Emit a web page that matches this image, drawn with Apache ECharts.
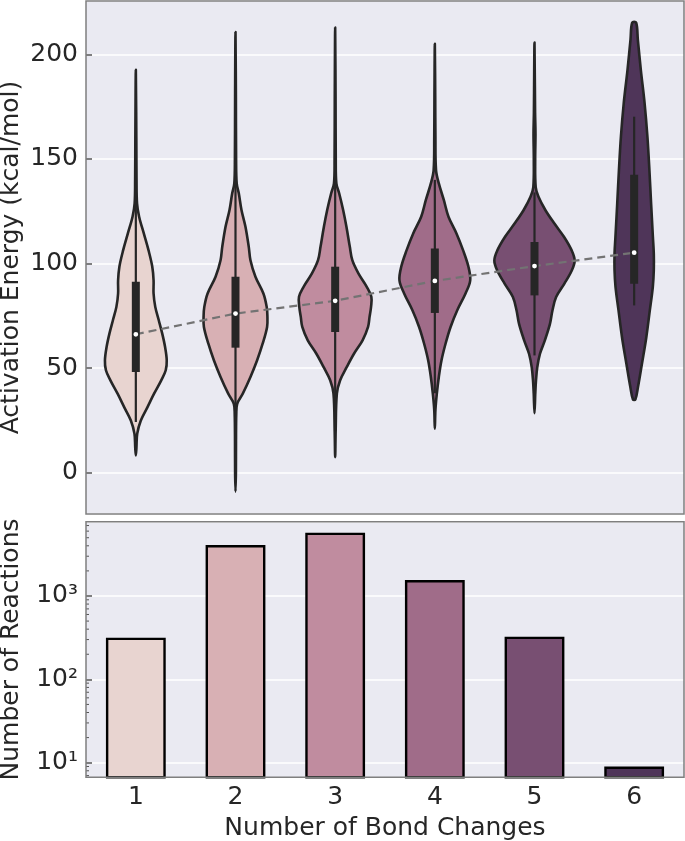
<!DOCTYPE html>
<html><head><meta charset="utf-8">
<script src="https://cdn.jsdelivr.net/npm/echarts@6/dist/echarts.min.js"></script>
<style>html,body{margin:0;padding:0;background:#fff}#c{width:685px;height:841px}</style>
</head><body><div id="c"></div>
<script>
// ---------- data ----------
const categories = ['1', '2', '3', '4', '5', '6'];
const palette = ['#E8D4D0', '#D8B0B4', '#C08C9F', '#A06C89', '#784F72', '#4F3559'];

// Activation energy box statistics (kcal/mol)
const medians     = [66.2, 76.1, 82.2, 91.7, 98.8, 105.2];
const q1          = [48.2, 59.8, 67.3, 76.4, 84.8, 90.4];
const q3          = [91.3, 93.7, 98.5, 107.2, 110.3, 142.5];
const whiskerLow  = [24.3, 10.0, 20.0, 38.0, 56.1, 80.0];
const whiskerHigh = [150.0, 138.0, 140.0, 140.0, 134.0, 170.2];

// Violin density profiles: [energy, half width as fraction of category band]
const violinProfile1 = [[8.3,0],[12,0.006],[18.7,0.014],[25,0.05],[31.4,0.117],[37.8,0.183],[44.2,0.255],[49,0.30],[53.8,0.31],[60.2,0.293],[66.5,0.265],[72.9,0.23],[79.3,0.195],[85.7,0.178],[92,0.178],[98.5,0.165],[106.4,0.127],[114.4,0.08],[122.4,0.033],[128.8,0.012],[140,0.007],[160,0.005],[192.6,0]];
const violinProfile2 = [[-9,0],[0,0.004],[15,0.005],[28,0.008],[33,0.017],[37.8,0.073],[45.8,0.15],[53.8,0.217],[61.8,0.273],[69.7,0.317],[75,0.32],[79.3,0.313],[85.7,0.28],[93.7,0.20],[101.6,0.15],[108,0.133],[117.6,0.10],[125.6,0.06],[133.6,0.033],[138.3,0.012],[150,0.006],[180,0.004],[210.7,0]];
const violinProfile3 = [[7.5,0],[20,0.005],[37.8,0.017],[44.2,0.05],[50.6,0.117],[57,0.19],[63.3,0.275],[69.7,0.33],[74.5,0.345],[79.3,0.36],[84.1,0.363],[88.9,0.317],[95.3,0.233],[101.6,0.172],[108,0.147],[117.6,0.113],[125.6,0.08],[133.6,0.04],[138.3,0.012],[150,0.006],[180,0.004],[212.8,0]];
const violinProfile4 = [[21.1,0],[30,0.006],[37.8,0.02],[45.8,0.04],[53.8,0.067],[61.8,0.108],[69.7,0.158],[77.7,0.225],[85.7,0.308],[92,0.355],[98.5,0.337],[106.4,0.283],[114.4,0.217],[122.4,0.137],[130.4,0.09],[138.3,0.04],[144.7,0.012],[160,0.006],[180,0.004],[205.1,0]];
const violinProfile5 = [[28.5,0],[38,0.008],[44.1,0.015],[50.5,0.028],[56.9,0.055],[63.2,0.103],[71.2,0.155],[77.6,0.18],[84,0.217],[90.4,0.30],[96.8,0.375],[101.5,0.403],[106.3,0.373],[112.7,0.297],[119.1,0.20],[125.5,0.11],[131.9,0.04],[136.6,0.012],[150,0.007],[162,0.01],[172,0.006],[205.6,0]];
const violinProfile6 = [[35,0.012],[40.9,0.038],[52.1,0.078],[64.8,0.122],[77.6,0.157],[88.8,0.187],[96.8,0.197],[104.7,0.197],[112.7,0.188],[128.7,0.17],[144.6,0.153],[160.6,0.133],[176.5,0.105],[192.5,0.067],[206.9,0.037],[215.1,0.02]];
const violinProfiles = [violinProfile1, violinProfile2, violinProfile3, violinProfile4, violinProfile5, violinProfile6];

// Number of reactions per bond-change count
const reactionCounts = [316, 4090, 5750, 1555, 325, 9];

// Axis ticks
const energyTicks = [0, 50, 100, 150, 200];
const countTicks = [10, 100, 1000];
const countTickLabels = ['10\u00B9', '10\u00B2', '10\u00B3'];
const minorCountTicks = [7, 8, 9, 20, 30, 40, 50, 60, 70, 80, 90, 200, 300, 400, 500, 600, 700, 800, 900, 2000, 3000, 4000, 5000, 6000, 7000];

// ---------- chart ----------
const FONT = 'DejaVu Sans';
const TXT = '#262626';
const FS = 25;
const chart = echarts.init(document.getElementById('c'), null, {renderer: 'canvas'});

const G0 = {left: 86, top: 1, width: 598, height: 513};
const G1 = {left: 86, top: 521.7, width: 598, height: 255.6};

function renderViolin(params, api) {
  const i = params.dataIndex;
  const prof = violinProfiles[i];
  const band = api.size([1, 0])[0];
  const left = [], right = [];
  prof.forEach(function (d) {
    const p = api.coord([i, d[0]]);
    left.push([p[0] - d[1] * band, p[1]]);
    if (d[1] > 0) right.push([p[0] + d[1] * band, p[1]]);
    else right.push(null);
  });
  const pts = [];
  left.forEach(function (p) { pts.push(p); });
  for (let k = right.length - 1; k >= 0; k--) if (right[k]) pts.push(right[k]);
  return {
    type: 'polygon',
    shape: {points: pts, smooth: 0.35},
    style: {fill: palette[i], stroke: '#262626', lineWidth: 2.6, lineJoin: 'round'}
  };
}

function renderBox(params, api) {
  const i = params.dataIndex;
  const lo = api.coord([i, whiskerLow[i]]), hi = api.coord([i, whiskerHigh[i]]);
  const b1 = api.coord([i, q1[i]]), b3 = api.coord([i, q3[i]]);
  const m = api.coord([i, medians[i]]);
  return {
    type: 'group',
    children: [
      {type: 'line', shape: {x1: lo[0], y1: lo[1], x2: hi[0], y2: hi[1]}, style: {stroke: '#262626', lineWidth: 2.2}},
      {type: 'line', shape: {x1: b1[0], y1: b1[1], x2: b3[0], y2: b3[1]}, style: {stroke: '#262626', lineWidth: 8}},
      {type: 'circle', shape: {cx: m[0], cy: m[1], r: 2.4}, style: {fill: '#ffffff'}}
    ]
  };
}

function renderMinorTick(params, api) {
  const v = minorCountTicks[params.dataIndex];
  const p = api.coord([0, v]);
  const x0 = params.coordSys.x;
  return {type: 'line', shape: {x1: x0, y1: p[1], x2: x0 + 3, y2: p[1]}, style: {stroke: '#555', lineWidth: 1}};
}

function isPow10(v) {
  const l = Math.log10(v);
  return Math.abs(l - Math.round(l)) < 1e-6;
}

const gridBase = {show: true, backgroundColor: '#EAEAF2', borderWidth: 0, containLabel: false, outerBoundsMode: 'none'};

const option = {
  backgroundColor: '#ffffff',
  animation: false,
  textStyle: {fontFamily: FONT},
  grid: [
    Object.assign({}, gridBase, G0),
    Object.assign({}, gridBase, G1)
  ],
  xAxis: [
    {type: 'category', gridIndex: 0, data: categories, boundaryGap: true,
     axisLine: {show: false}, axisTick: {show: false}, axisLabel: {show: false}, splitLine: {show: false}},
    {type: 'category', gridIndex: 1, data: categories, boundaryGap: true,
     axisLine: {show: false}, axisTick: {show: false},
     axisLabel: {color: TXT, fontSize: FS, fontFamily: FONT, margin: 8},
     splitLine: {show: false},
     name: 'Number of Bond Changes', nameLocation: 'middle', nameGap: 39,
     nameTextStyle: {color: TXT, fontSize: FS, fontFamily: FONT}}
  ],
  yAxis: [
    {type: 'value', gridIndex: 0, min: -19.7, max: 225.5, splitNumber: 5,
     axisLine: {show: false},
     axisTick: {show: true, inside: true, length: 6, lineStyle: {color: '#555', width: 1.5}},
     axisLabel: {color: TXT, fontSize: FS, fontFamily: FONT, margin: 8, showMinLabel: false, showMaxLabel: false,
       formatter: function (v) { return energyTicks.indexOf(v) >= 0 ? String(v) : ''; }},
     splitLine: {show: true, lineStyle: {color: '#ffffff', width: 1.6}},
     name: 'Activation Energy (kcal/mol)', nameLocation: 'middle', nameGap: 62, nameMoveOverlap: false,
     nameTextStyle: {color: TXT, fontSize: FS, fontFamily: FONT}},
    {type: 'log', gridIndex: 1, min: 6.68, max: 7785, logBase: 10,
     axisLine: {show: false},
     axisTick: {show: true, inside: true, length: 6, lineStyle: {color: '#555', width: 1.5}},
     axisLabel: {color: TXT, fontSize: FS, fontFamily: FONT, margin: 8, showMinLabel: false, showMaxLabel: false,
       formatter: function (v) {
         if (!isPow10(v)) return '';
         const idx = countTicks.findIndex(function (t) { return Math.abs(t - v) / t < 1e-6; });
         return idx >= 0 ? countTickLabels[idx] : '';
       }},
     splitLine: {show: true, lineStyle: {color: '#ffffff', width: 1.6}},
     name: 'Number of Reactions', nameLocation: 'middle', nameGap: 62, nameMoveOverlap: false,
     nameTextStyle: {color: TXT, fontSize: FS, fontFamily: FONT}}
  ],
  series: [
    {type: 'custom', name: 'violins', xAxisIndex: 0, yAxisIndex: 0, z: 2,
     renderItem: renderViolin, data: medians.map(function (m, i) { return [i, m]; }),
     encode: {x: 0, y: 1}, silent: true},
    {type: 'line', name: 'median trend', xAxisIndex: 0, yAxisIndex: 0, z: 3,
     data: medians, symbol: 'none', silent: true,
     lineStyle: {color: '#737373', width: 2.2, type: [8, 5]}},
    {type: 'custom', name: 'boxes', xAxisIndex: 0, yAxisIndex: 0, z: 4,
     renderItem: renderBox, data: medians.map(function (m, i) { return [i, m]; }),
     encode: {x: 0, y: 1}, silent: true},
    {type: 'bar', name: 'reactions', xAxisIndex: 1, yAxisIndex: 1, barWidth: '60%',
     data: reactionCounts.map(function (v, i) {
       return {value: v, itemStyle: {color: palette[i], borderColor: '#000000', borderWidth: 2.4}};
     }), silent: true},
    {type: 'custom', name: 'minor ticks', xAxisIndex: 1, yAxisIndex: 1, z: 5,
     renderItem: renderMinorTick, data: minorCountTicks.map(function (v) { return [0, v]; }),
     encode: {x: 0, y: 1}, silent: true}
  ],
  graphic: [
    {type: 'rect', z: 100, silent: true, shape: {x: G0.left, y: G0.top, width: G0.width, height: G0.height},
     style: {fill: 'none', stroke: '#7f7f7f', lineWidth: 1.5}},
    {type: 'rect', z: 100, silent: true, shape: {x: G1.left, y: G1.top, width: G1.width, height: G1.height},
     style: {fill: 'none', stroke: '#7f7f7f', lineWidth: 1.5}}
  ]
};
chart.setOption(option);
</script>
</body></html>
